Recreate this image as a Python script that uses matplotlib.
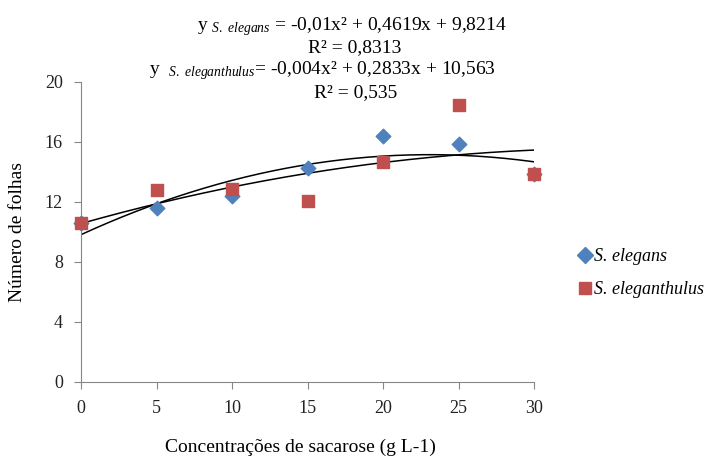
import numpy as np
import matplotlib
matplotlib.use("Agg")
import matplotlib.pyplot as plt
from matplotlib.lines import Line2D

plt.rcParams['font.family'] = ['Liberation Serif', 'DejaVu Serif']
plt.rcParams['mathtext.fontset'] = 'custom'
plt.rcParams['mathtext.rm'] = 'Liberation Serif'
plt.rcParams['mathtext.it'] = 'Liberation Serif:italic'

x_conc = [0, 5, 10, 15, 20, 25, 30]
elegans = [10.6, 11.6, 12.4, 14.3, 16.4, 15.9, 13.9]
eleganthulus = [10.6, 12.8, 12.9, 12.1, 14.7, 18.5, 13.9]
coef_elegans = [-0.01, 0.4619, 9.8214]
coef_eleganthulus = [-0.004, 0.2833, 10.563]
x_ticks = [0, 5, 10, 15, 20, 25, 30]
y_ticks = [0, 4, 8, 12, 16, 20]

fig = plt.figure(figsize=(7.08, 4.59), dpi=100)
ax = fig.add_axes([81/708, 1-382/459, (534-81)/708, (382-82)/459])

xs = np.linspace(0, 30, 200)
ax.plot(xs, np.polyval(coef_elegans, xs), color='black', lw=1.1, zorder=2)
ax.plot(xs, np.polyval(coef_eleganthulus, xs), color='black', lw=1.1, zorder=2)

blue = '#4F81BD'
red = '#C0504D'
ax.scatter(x_conc, elegans, marker='D', s=55, color=blue, zorder=3, clip_on=False)
ax.scatter(x_conc, eleganthulus, marker='s', s=70, color=red, zorder=4, clip_on=False)

ax.set_xlim(0, 30)
ax.set_ylim(0, 20)
ax.set_xticks(x_ticks)
ax.set_yticks(y_ticks)
for s in ['top', 'right']:
    ax.spines[s].set_visible(False)
for s in ['left', 'bottom']:
    ax.spines[s].set_color('#868686')
ax.tick_params(axis='both', direction='out', color='#868686', length=5,
               labelsize=13, labelcolor='#222222', pad=8)

fig.text(18/708, 1-232/459, 'Número de folhas', rotation=90, ha='center', va='center', fontsize=14)
fig.text(300/708, 1-447/459, 'Concentrações de sacarose (g L-1)', ha='center', va='center', fontsize=14)

fs = 14
fig.text(352/708, 1-27/459, r'y $_{\mathit{S.\ elegans}}$ = -0,01x² + 0,4619x + 9,8214',
         ha='center', va='center', fontsize=fs)
fig.text(355/708, 1-48/459, r'R² = 0,8313', ha='center', va='center', fontsize=fs)
fig.text(322/708, 1-71/459, r'y  $_{\mathit{S.\ eleganthulus}}$= -0,004x² + 0,2833x + 10,563',
         ha='center', va='center', fontsize=fs)
fig.text(356/708, 1-93/459, r'R² = 0,535', ha='center', va='center', fontsize=fs)

handles = [Line2D([], [], marker='D', color=blue, linestyle='none', markersize=8),
           Line2D([], [], marker='s', color=red, linestyle='none', markersize=9)]
leg = fig.legend(handles, ['S. elegans', 'S. eleganthulus'], loc='center left',
                 bbox_to_anchor=(560/708, 1-273/459), frameon=False,
                 prop={'family': 'Liberation Serif', 'style': 'italic', 'size': 13},
                 handletextpad=0.0, labelspacing=0.9, handlelength=1.0)

fig.savefig('out.png', dpi=100)
